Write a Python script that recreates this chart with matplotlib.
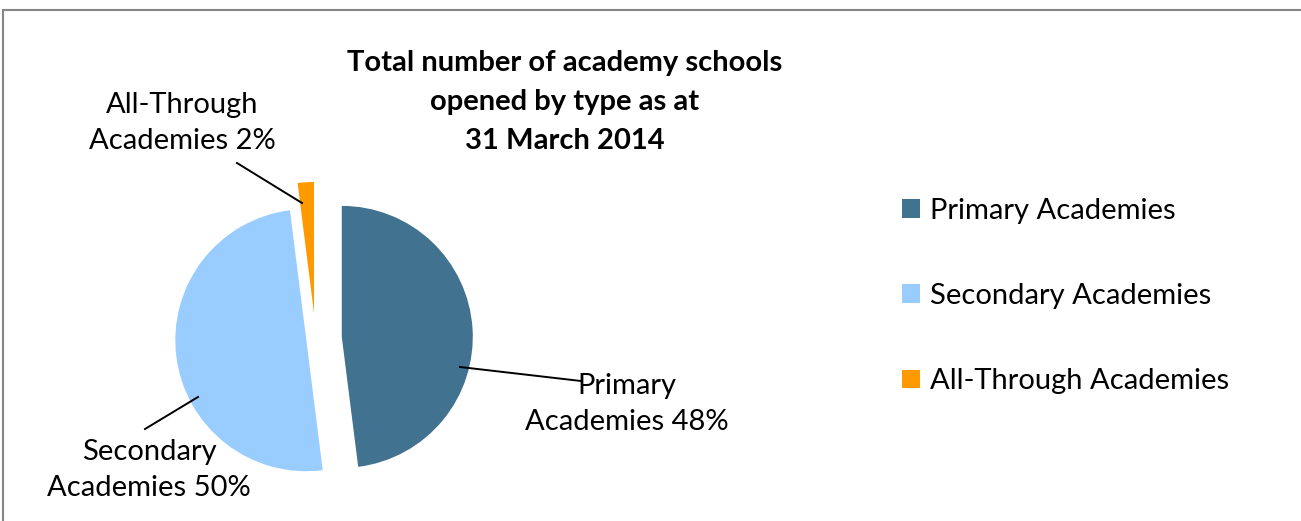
import matplotlib
matplotlib.use("Agg")
import matplotlib.pyplot as plt
from matplotlib.patches import Rectangle, Patch

categories = ["Primary Academies", "Secondary Academies", "All-Through Academies"]
shares = [48, 50, 2]
label_texts = ["Primary\nAcademies 48%", "Secondary\nAcademies 50%", "All-Through\nAcademies 2%"]
colors = ["#41728F", "#99CCFF", "#FF9900"]
title = "Total number of academy schools\nopened by type as at\n31 March 2014"

W, H = 1301, 521
plt.rcParams['font.family'] = ['Lato', 'DejaVu Sans']
fig = plt.figure(figsize=(W / 100, H / 100), dpi=100)

def fx(x):
    return x / W

def fy(y):
    return 1 - y / H

# border (chart area frame, extends past right/bottom edge)
fig.patches.append(Rectangle((fx(3), fy(1000)), fx(2000), fy(10) - fy(1000),
                             transform=fig.transFigure, fill=False,
                             edgecolor="#868686", linewidth=1.5))

# pie axes: centre (324, 338) px, radius 131 px
cx, cy, r = 324, 338, 131
half = 200
ax = fig.add_axes([fx(cx - half), fy(cy + half), 2 * half / W, 2 * half / H])

wedges, _ = ax.pie(shares, colors=colors, startangle=90, counterclock=False,
                   explode=[0.136, 0.136, 0.19], radius=1,
                   wedgeprops=dict(linewidth=0))
# the small slice sits a little further left in the original
wedges[2].set_center((-10 / r, 25 / r))
lim = half / r
ax.set_xlim(-lim, lim)
ax.set_ylim(-lim, lim)
ax.set_aspect('equal')
ax.axis('off')

# data labels with leader lines (label centre px, leader start px, leader end px)
label_pos = [(627, 404), (149, 470), (182, 123)]
leader_in = [(460, 367), (198, 397), (302, 203)]
leader_out = [(581, 381), (145, 429), (237, 163)]
for txt, lp, li, lo in zip(label_texts, label_pos, leader_in, leader_out):
    fig.text(fx(lp[0]), fy(lp[1]), txt, ha='center', va='center',
             fontsize=21, linespacing=1.5, color='black')
    fig.add_artist(plt.Line2D([fx(li[0]), fx(lo[0])], [fy(li[1]), fy(lo[1])],
                              transform=fig.transFigure, color='black', linewidth=1.4))

# title
fig.text(fx(565), fy(102), title, ha='center', va='center', fontsize=21,
         fontweight='bold', linespacing=1.6)

# legend
handles = [Patch(facecolor=c, edgecolor='none') for c in colors]
fig.legend(handles, categories, loc='center left', bbox_to_anchor=(fx(876), fy(296)),
           frameon=False, fontsize=21, handlelength=0.6, handleheight=0.6,
           handletextpad=0.35, labelspacing=2.03)

fig.savefig("out.png", dpi=100)
